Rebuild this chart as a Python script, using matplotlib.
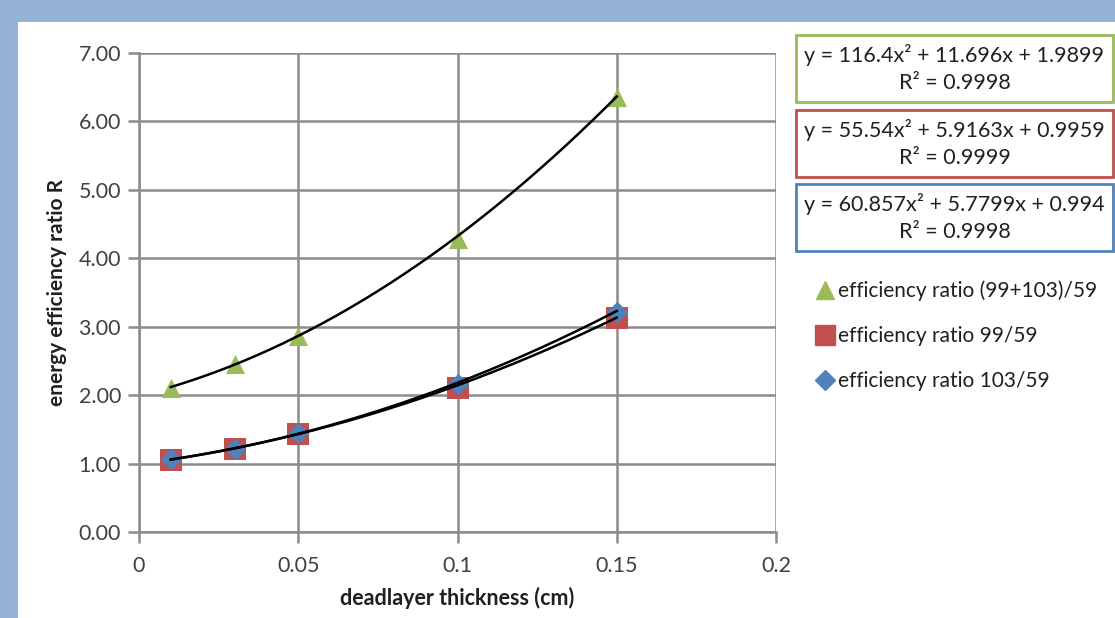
import matplotlib
matplotlib.use("Agg")
import matplotlib.pyplot as plt
import numpy as np
from matplotlib.patches import Rectangle
from matplotlib.lines import Line2D

# data
thickness = [0.01, 0.03, 0.05, 0.10, 0.15]
ratio_sum = [2.11, 2.45, 2.86, 4.28, 6.36]
ratio_99 = [1.05, 1.21, 1.43, 2.11, 3.13]
ratio_103 = [1.06, 1.22, 1.44, 2.17, 3.22]

# trendline coefficients (x^2, x, 1) as printed
fit_sum = [116.4, 11.696, 1.9899]
fit_99 = [55.54, 5.9163, 0.9959]
fit_103 = [60.857, 5.7799, 0.994]
eq_labels = [
    ("y = 116.4x\u00b2 + 11.696x + 1.9899", "R\u00b2 = 0.9998"),
    ("y = 55.54x\u00b2 + 5.9163x + 0.9959", "R\u00b2 = 0.9999"),
    ("y = 60.857x\u00b2 + 5.7799x + 0.994", "R\u00b2 = 0.9998"),
]
series_names = ["efficiency ratio (99+103)/59", "efficiency ratio 99/59", "efficiency ratio 103/59"]

GREEN = "#9bbb59"
RED = "#c0504d"
BLUE = "#4f81bd"
GRID = "#8c8c8c"
TXT = "#404040"
FRAME = "#95b3d7"

plt.rcParams["font.family"] = ["Lato", "DejaVu Sans"]

W, H = 1115, 618
fig = plt.figure(figsize=(W / 100, H / 100), dpi=100, facecolor="white")

# blue frame on top and left
fig.patches.append(Rectangle((0, 1 - 22 / H), 1, 22 / H, transform=fig.transFigure,
                             facecolor=FRAME, edgecolor="none", zorder=0))
fig.patches.append(Rectangle((0, 0), 18 / W, 1, transform=fig.transFigure,
                             facecolor=FRAME, edgecolor="none", zorder=0))

ax = fig.add_axes([139 / W, 1 - 532 / H, (776 - 139) / W, (532 - 53) / H])
ax.set_xlim(0, 0.2)
ax.set_ylim(0, 7)
ax.set_xticks(np.arange(0, 0.21, 0.05))
ax.set_xticklabels(["0", "0.05", "0.1", "0.15", "0.2"])
ax.set_yticks(np.arange(0, 7.1, 1))
ax.set_yticklabels([f"{v:.2f}" for v in np.arange(0, 7.1, 1)])
ax.grid(True, color=GRID, linewidth=1.8)
ax.set_axisbelow(True)
for s in ["top", "right"]:
    ax.spines[s].set_visible(False)
for s in ["left", "bottom"]:
    ax.spines[s].set_color(GRID)
    ax.spines[s].set_linewidth(1.8)
ax.tick_params(colors=GRID, length=8, width=1.8, labelsize=15.5, labelcolor=TXT, pad=5)
ax.tick_params(axis="x", pad=9)

ax.set_xlabel("deadlayer thickness (cm)", fontsize=15.5, fontweight="bold", color="#202020", labelpad=8)
ax.set_ylabel("energy efficiency ratio R", fontsize=15, fontweight="bold", color="#202020", labelpad=8)

xs = np.linspace(thickness[0], thickness[-1], 200)
ax.scatter(thickness, ratio_sum, marker="^", s=190, color=GREEN, zorder=3, linewidths=0)
ax.scatter(thickness, ratio_99, marker="s", s=260, color=RED, zorder=3, linewidths=0)
ax.scatter(thickness, ratio_103, marker="D", s=120, color=BLUE, zorder=4, linewidths=0)
for c in (fit_sum, fit_99, fit_103):
    ax.plot(xs, np.polyval(c, xs), color="black", linewidth=1.8, zorder=5)

# equation boxes
box_colors = [GREEN, RED, BLUE]
box_tops = [35, 110, 184]
for (l1, l2), col, top in zip(eq_labels, box_colors, box_tops):
    fig.patches.append(Rectangle((796 / W, 1 - (top + 67) / H), (1113 - 796) / W, 67 / H,
                                 transform=fig.transFigure, facecolor="white",
                                 edgecolor=col, linewidth=2))
    cx = (796 + 1113) / 2 / W
    fig.text(cx, 1 - (top + 20) / H, l1, ha="center", va="center", fontsize=15.5, color="#202020")
    fig.text(cx, 1 - (top + 48) / H, l2, ha="center", va="center", fontsize=15.5, color="#202020")

# legend
handles = [
    Line2D([], [], linestyle="none", marker="^", markersize=13, color=GREEN),
    Line2D([], [], linestyle="none", marker="s", markersize=14, color=RED),
    Line2D([], [], linestyle="none", marker="D", markersize=10, color=BLUE),
]
fig.legend(handles, series_names, loc="upper left", bbox_to_anchor=(802 / W, 1 - 266 / H),
           frameon=False, fontsize=15, handlelength=0.8, handletextpad=0.25,
           labelspacing=1.2, labelcolor="#202020", borderpad=0.2)

fig.savefig("out.png", dpi=100, facecolor="white")
